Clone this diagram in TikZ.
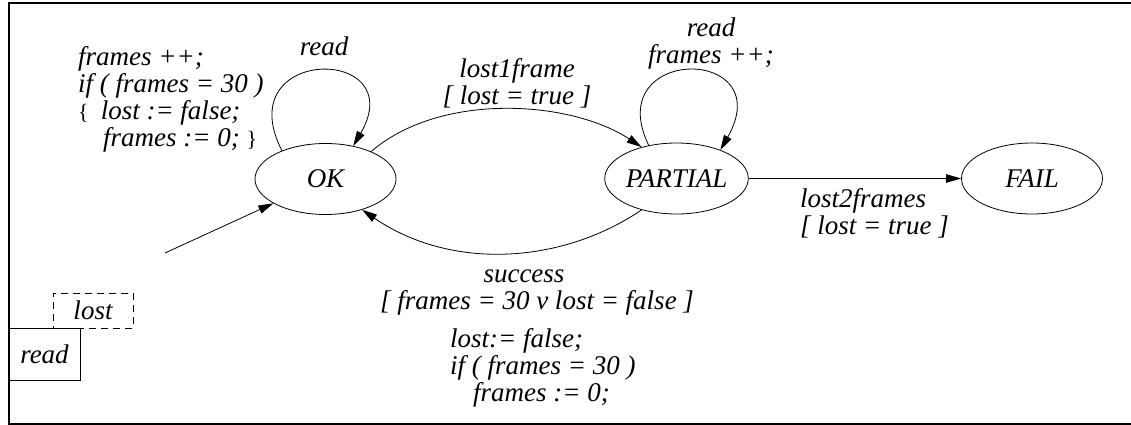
\documentclass[tikz,border=0pt]{standalone}
\usepackage{fontspec}
\setmainfont{Liberation Serif}
\usetikzlibrary{arrows.meta,shapes.geometric}

\tikzset{
  txt/.style={font=\fontsize{27pt}{27pt}\selectfont\itshape, inner sep=0pt},
  state/.style={txt, draw, ellipse, line width=0.8pt, minimum width=141pt, minimum height=71pt},
  arr/.style={line width=0.8pt, -{Triangle[length=15pt,width=8.5pt]}},
  lbl/.style={txt, align=left},
  clbl/.style={txt, align=center},
}

\begin{document}
\begin{tikzpicture}[x=1pt, y=-1pt]
  \useasboundingbox (0,0) rectangle (1131,425);

  % outer frame (open on the right)
  \draw[line width=1.2pt] (1131,3) -- (9,3) -- (9,424) -- (1131,424);

  % states
  \node[state] (ok)      at (325.5,179)   {OK};
  \node[state] (partial) at (676.5,178.5) {PARTIAL};
  \node[state] (fail)    at (1032,178.5)  {FAIL};

  % initial transition
  \coordinate (init) at (165,253);
  \draw[arr] (init) -- (ok.205);

  % self loop on OK
  \draw[arr] (ok.147) .. controls (228,45) and (412,45) .. (ok.50);
  \node[clbl] (okread) at (324,46.5) {read};
  \node[lbl, anchor=north west] (okact) at (78,46)
    {frames ++;\\
     if ( frames = 30 )\\
     {\fontsize{22pt}{22pt}\selectfont\upshape\{}\hspace*{12pt}lost := false;\\
     \hspace*{25pt}frames := 0; {\fontsize{22pt}{22pt}\selectfont\upshape\}}};

  % OK -> PARTIAL
  \draw[arr] (ok.31) .. controls (440,92) and (570,100) .. (partial.138);
  \node[clbl, anchor=north] (lost1) at (517,58) {lost1frame\\{[} lost = true ]};

  % self loop on PARTIAL
  \draw[arr] (partial.130) .. controls (600,45) and (780,45) .. (partial.33);
  \node[clbl, anchor=north] (partread) at (711,18) {read\\frames ++;};

  % PARTIAL -> FAIL
  \draw[arr] (partial) -- (fail);
  \node[lbl, anchor=north west] (lost2) at (800,188) {lost2frames\\{[} lost = true ]};

  % PARTIAL -> OK
  \draw[arr] (partial.222) .. controls (560,265) and (450,270) .. (ok.320);
  \node[clbl, anchor=north] (succ) at (537,270)
    {success\hspace*{26pt}\\{[} frames = 30 v lost = false ]};
  \node[lbl, anchor=north west] (succact) at (450,328)
    {lost:= false;\\
     if ( frames = 30 )\\
     \hspace*{23pt}frames := 0;};

  % legend boxes
  \node[txt, draw, dash pattern=on 7pt off 5pt, line width=0.8pt,
        minimum width=80pt, minimum height=35pt] (lostbox) at (93,310.5) {lost};
  \node[txt, draw, line width=0.8pt,
        minimum width=71pt, minimum height=52pt] (readbox) at (44.5,354) {read};
\end{tikzpicture}
\end{document}
